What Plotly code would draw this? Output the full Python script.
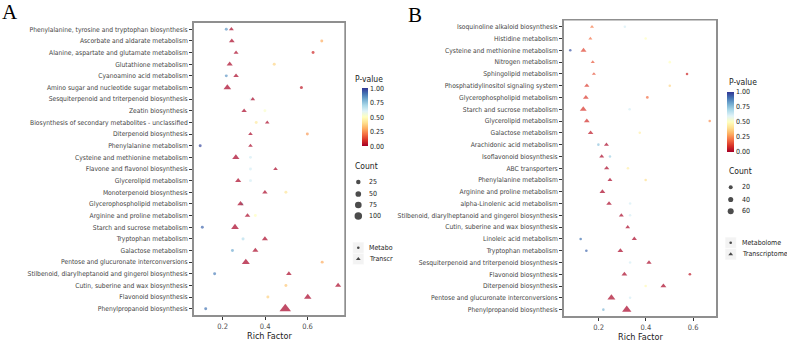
import math
import plotly.graph_objects as go

W, H = 787, 344
FONT = "DejaVu Sans Condensed, Liberation Sans, sans-serif"
SERIF = "Liberation Serif, Times New Roman, DejaVu Serif, serif"

# ---------------- Panel A data (rows top -> bottom) ----------------
A_pathways = [
    "Phenylalanine, tyrosine and tryptophan biosynthesis",
    "Ascorbate and aldarate metabolism",
    "Alanine, aspartate and glutamate metabolism",
    "Glutathione metabolism",
    "Cyanoamino acid metabolism",
    "Amino sugar and nucleotide sugar metabolism",
    "Sesquiterpenoid and triterpenoid biosynthesis",
    "Zeatin biosynthesis",
    "Biosynthesis of secondary metabolites - unclassified",
    "Diterpenoid biosynthesis",
    "Phenylalanine metabolism",
    "Cysteine and methionine metabolism",
    "Flavone and flavonol biosynthesis",
    "Glycerolipid metabolism",
    "Monoterpenoid biosynthesis",
    "Glycerophospholipid metabolism",
    "Arginine and proline metabolism",
    "Starch and sucrose metabolism",
    "Tryptophan metabolism",
    "Galactose metabolism",
    "Pentose and glucuronate interconversions",
    "Stilbenoid, diarylheptanoid and gingerol biosynthesis",
    "Cutin, suberine and wax biosynthesis",
    "Flavonoid biosynthesis",
    "Phenylpropanoid biosynthesis",
]
A_trans_rich = [0.241, 0.243, 0.263, 0.233, 0.263, 0.222, 0.342, 0.301, 0.410, 0.331,
                0.331, 0.262, 0.449, 0.273, 0.399, 0.284, 0.317, 0.258, 0.399, 0.354,
                0.309, 0.512, 0.744, 0.601, 0.495]
A_trans_count = [6, 14, 6, 18, 12, 38, 3, 10, 2, 3,
                 3, 32, 3, 18, 10, 22, 12, 38, 18, 18,
                 43, 12, 18, 35, 106]
A_trans_p = [0.01, 0.01, 0.01, 0.01, 0.01, 0.005, 0.01, 0.01, 0.01, 0.01,
             0.01, 0.005, 0.01, 0.01, 0.01, 0.01, 0.01, 0.005, 0.01, 0.01,
             0.005, 0.01, 0.01, 0.005, 0.001]
A_metab_rich = [0.217, 0.667, 0.626, 0.443, 0.217, 0.571, 0.333, 0.399, 0.358, 0.599,
                0.094, 0.331, 0.331, 0.331, 0.498, 0.290, 0.354, 0.104, 0.296, 0.246,
                0.669, 0.162, 0.498, 0.413, 0.120]
A_metab_count = [1, 1, 1, 1, 1, 2, 1, 1, 1, 1,
                 1, 1, 1, 1, 1, 1, 1, 1, 2, 1,
                 1, 1, 1, 1, 1]
A_metab_p = [0.84, 0.30, 0.08, 0.38, 0.84, 0.05, 0.60, 0.52, 0.43, 0.27,
             0.97, 0.62, 0.62, 0.62, 0.42, 0.72, 0.50, 0.92, 0.68, 0.80,
             0.30, 0.88, 0.35, 0.37, 0.90]

# ---------------- Panel B data (rows top -> bottom) ----------------
B_pathways = [
    "Isoquinoline alkaloid biosynthesis",
    "Histidine metabolism",
    "Cysteine and methionine metabolism",
    "Nitrogen metabolism",
    "Sphingolipid metabolism",
    "Phosphatidylinositol signaling system",
    "Glycerophospholipid metabolism",
    "Starch and sucrose metabolism",
    "Glycerolipid metabolism",
    "Galactose metabolism",
    "Arachidonic acid metabolism",
    "Isoflavonoid biosynthesis",
    "ABC transporters",
    "Phenylalanine metabolism",
    "Arginine and proline metabolism",
    "alpha-Linolenic acid metabolism",
    "Stilbenoid, diarylheptanoid and gingerol biosynthesis",
    "Cutin, suberine and wax biosynthesis",
    "Linoleic acid metabolism",
    "Tryptophan metabolism",
    "Sesquiterpenoid and triterpenoid biosynthesis",
    "Flavonoid biosynthesis",
    "Diterpenoid biosynthesis",
    "Pentose and glucuronate interconversions",
    "Phenylpropanoid biosynthesis",
]
B_trans_rich = [0.172, 0.165, 0.136, 0.175, 0.180, 0.150, 0.146, 0.135, 0.150, 0.166,
                0.233, 0.213, 0.234, 0.248, 0.216, 0.244, 0.296, 0.323, 0.351, 0.292,
                0.413, 0.309, 0.474, 0.254, 0.319]
B_trans_count = [3, 3, 20, 3, 3, 13, 18, 30, 18, 16,
                 10, 10, 13, 10, 18, 16, 10, 8, 13, 18,
                 13, 18, 20, 45, 65]
B_trans_p = [0.22, 0.20, 0.13, 0.16, 0.15, 0.11, 0.11, 0.10, 0.09, 0.05,
             0.01, 0.01, 0.01, 0.01, 0.01, 0.01, 0.01, 0.01, 0.01, 0.01,
             0.01, 0.01, 0.01, 0.01, 0.005]
B_metab_rich = [0.311, 0.399, 0.080, 0.501, 0.574, 0.501, 0.406, 0.331, 0.670, 0.374,
                0.199, 0.248, 0.324, 0.399, None, 0.333, 0.333, None, 0.124, 0.148,
                0.333, 0.586, 0.399, 0.333, 0.220]
B_metab_count = [1, 1, 1, 1, 1, 1, 3, 1, 1, 1,
                 1, 1, 1, 1, None, 1, 1, None, 1, 2,
                 1, 2, 1, 1, 1]
B_metab_p = [0.62, 0.50, 0.95, 0.50, 0.08, 0.38, 0.20, 0.62, 0.25, 0.45,
             0.75, 0.72, 0.45, 0.40, None, 0.62, 0.62, None, 0.90, 0.92,
             0.62, 0.05, 0.48, 0.62, 0.78]

A_count_breaks = [25, 50, 75, 100]
B_count_breaks = [20, 40, 60]
A_shape_labels = ["Metabo", "Transcr"]
B_shape_labels = ["Metabolome", "Transcriptome"]
p_ticks = [0.0, 0.25, 0.5, 0.75, 1.0]
p_ticktext = ["0.00", "0.25", "0.50", "0.75", "1.00"]
x_ticks = [0.2, 0.4, 0.6]

SIZE_PARAMS = {"A": (8.25, 0.48), "B": (6.0, 0.5)}
TRI = 1.3
FRAME = "#8F8F8F"


def diam(c, panel):
    a, b = SIZE_PARAMS[panel]
    return math.sqrt(a + b * c)


def px(x):
    return x / W


def py(y):
    return 1 - y / H


# panel boxes in pixels (left, right, top, bottom)
BOX_A = (193.3, 345.0, 22.3, 315.7)
BOX_B = (563.3, 716.7, 19.7, 316.7)

fig = go.Figure()


def add_panel(panel, paths, tr, tc, tp, mr, mc, mp, xa, ya, cax):
    n = len(paths)
    idx = [i for i in range(n) if mr[i] is not None]
    fig.add_trace(go.Scatter(
        x=[mr[i] for i in idx], y=[i for i in idx], mode="markers", xaxis=xa, yaxis=ya,
        marker=dict(symbol="circle", size=[diam(mc[i], panel) for i in idx],
                    color=[mp[i] for i in idx], coloraxis=cax, line=dict(width=0)),
        showlegend=False, cliponaxis=False))
    fig.add_trace(go.Scatter(
        x=tr, y=list(range(n)), mode="markers", xaxis=xa, yaxis=ya,
        marker=dict(symbol="triangle-up", size=[diam(c, panel) * TRI for c in tc],
                    color=tp, coloraxis=cax, line=dict(width=0)),
        showlegend=False, cliponaxis=False))


add_panel("A", A_pathways, A_trans_rich, A_trans_count, A_trans_p,
          A_metab_rich, A_metab_count, A_metab_p, "x", "y", "coloraxis")
add_panel("B", B_pathways, B_trans_rich, B_trans_count, B_trans_p,
          B_metab_rich, B_metab_count, B_metab_p, "x2", "y2", "coloraxis2")


def xrange(tr, mr):
    vals = [v for v in tr + mr if v is not None]
    lo, hi = min(vals), max(vals)
    s = hi - lo
    return [lo - 0.05 * s, hi + 0.05 * s]


axis_common = dict(showline=True, mirror=True, linecolor=FRAME, linewidth=1.4,
                   showgrid=False, zeroline=False, ticks="outside", ticklen=3,
                   tickwidth=1, tickcolor="#333333")

LEG_A = (348, 400)
LEG_B = (719, 787)

fig.update_layout(
    width=W, height=H, margin=dict(l=0, r=0, t=0, b=0),
    paper_bgcolor="white", plot_bgcolor="rgba(0,0,0,0)", showlegend=False,
    xaxis=dict(domain=[px(BOX_A[0]), px(BOX_A[1])], range=xrange(A_trans_rich, A_metab_rich),
               tickvals=x_ticks, ticktext=[f"{v:.1f}" for v in x_ticks],
               tickfont=dict(family=FONT, size=7.5, color="#4D4D4D"), anchor="y", **axis_common),
    yaxis=dict(domain=[py(BOX_A[3]), py(BOX_A[2])], range=[len(A_pathways) - 0.4, -0.6],
               tickvals=list(range(len(A_pathways))), ticktext=A_pathways,
               tickfont=dict(family=FONT, size=6.7, color="#444444"), anchor="x", **axis_common),
    xaxis2=dict(domain=[px(BOX_B[0]), px(BOX_B[1])], range=xrange(B_trans_rich, B_metab_rich),
                tickvals=x_ticks, ticktext=[f"{v:.1f}" for v in x_ticks],
                tickfont=dict(family=FONT, size=7.5, color="#4D4D4D"), anchor="y2", **axis_common),
    yaxis2=dict(domain=[py(BOX_B[3]), py(BOX_B[2])], range=[len(B_pathways) - 0.4, -0.6],
                tickvals=list(range(len(B_pathways))), ticktext=B_pathways,
                tickfont=dict(family=FONT, size=6.7, color="#444444"), anchor="x2", **axis_common),
    xaxis3=dict(domain=[px(LEG_A[0]), px(LEG_A[1])], range=list(LEG_A), visible=False, anchor="y3"),
    yaxis3=dict(domain=[0, 1], range=[H, 0], visible=False, anchor="x3"),
    xaxis4=dict(domain=[px(LEG_B[0]), px(LEG_B[1])], range=list(LEG_B), visible=False, anchor="y4"),
    yaxis4=dict(domain=[0, 1], range=[H, 0], visible=False, anchor="x4"),
)

cb_common = dict(xanchor="left", yanchor="middle", lenmode="pixels", xpad=0, ypad=0,
                 outlinewidth=0, tickvals=p_ticks, ticktext=p_ticktext, ticks="",
                 tickfont=dict(family=FONT, size=7, color="#222222"))
fig.update_layout(
    coloraxis=dict(colorscale="RdYlBu", cmin=0, cmax=1,
                   colorbar=dict(x=px(361.5), y=py(117.3), len=58, thickness=5.5, **cb_common)),
    coloraxis2=dict(colorscale="RdYlBu", cmin=0, cmax=1,
                    colorbar=dict(x=px(726.7), y=py(121.8), len=60, thickness=6.5, **cb_common)),
)

ann = []


def text(x, y, s, size=7, color="#222222", anchor="left", family=FONT):
    ann.append(dict(x=px(x), y=py(y), xref="paper", yref="paper", text=s, showarrow=False,
                    xanchor=anchor, yanchor="middle", font=dict(family=family, size=size, color=color)))


text(10, 12, "A", size=21, color="#000000", anchor="center", family=SERIF)
text(415, 15.5, "B", size=21, color="#000000", anchor="center", family=SERIF)
text(269, 335.5, "Rich Factor", size=9, color="#222222", anchor="center")
text(640, 336.5, "Rich Factor", size=9, color="#222222", anchor="center")
text(352.5, 79, "P-value", size=8.5)
text(352.5, 166, "Count", size=8.5)
text(726.5, 82, "P-value", size=8.5)
text(726.5, 171, "Count", size=8.5)

# panel frames in paper coordinates (unclipped)
shapes = [dict(type="rect", xref="paper", yref="paper", x0=px(b[0]), x1=px(b[1]),
               y0=py(b[3]), y1=py(b[2]), line=dict(color=FRAME, width=1.4),
               fillcolor="rgba(0,0,0,0)", layer="above")
          for b in (BOX_A, BOX_B)]


def add_legends(panel, xa, ya, kx, lx, cnt_breaks, cnt_y, shape_y, shape_labels):
    fig.add_trace(go.Scatter(x=[kx] * len(cnt_breaks), y=cnt_y, xaxis=xa, yaxis=ya,
                             mode="markers", marker=dict(color="black", line=dict(width=0),
                                                         size=[diam(c, panel) for c in cnt_breaks]),
                             showlegend=False, cliponaxis=False, hoverinfo="skip"))
    for c, yy in zip(cnt_breaks, cnt_y):
        text(lx, yy, str(c), size=7)
    for yy in shape_y:
        shapes.append(dict(type="rect", xref="paper", yref="paper", x0=px(kx - 5.6), x1=px(kx + 5.6),
                           y0=py(yy + 5.6), y1=py(yy - 5.6), fillcolor="#F3F3F3",
                           line=dict(color="white", width=0.5), layer="below"))
    fig.add_trace(go.Scatter(x=[kx, kx], y=shape_y, xaxis=xa, yaxis=ya, mode="markers",
                             marker=dict(color="black", symbol=["circle", "triangle-up"],
                                         size=[2.6, 4.2], line=dict(width=0)),
                             showlegend=False, cliponaxis=False, hoverinfo="skip"))
    for s, yy in zip(shape_labels, shape_y):
        text(lx, yy, s, size=7)


add_legends("A", "x3", "y3", 358.3, 366.5, A_count_breaks, [182, 194, 205, 216],
            [247.7, 259.0], A_shape_labels)
add_legends("B", "x4", "y4", 730.7, 739.5, B_count_breaks, [187.3, 199.5, 211.3],
            [242.7, 254.3], B_shape_labels)

fig.update_layout(annotations=ann, shapes=shapes)
fig.write_html("out.html")
